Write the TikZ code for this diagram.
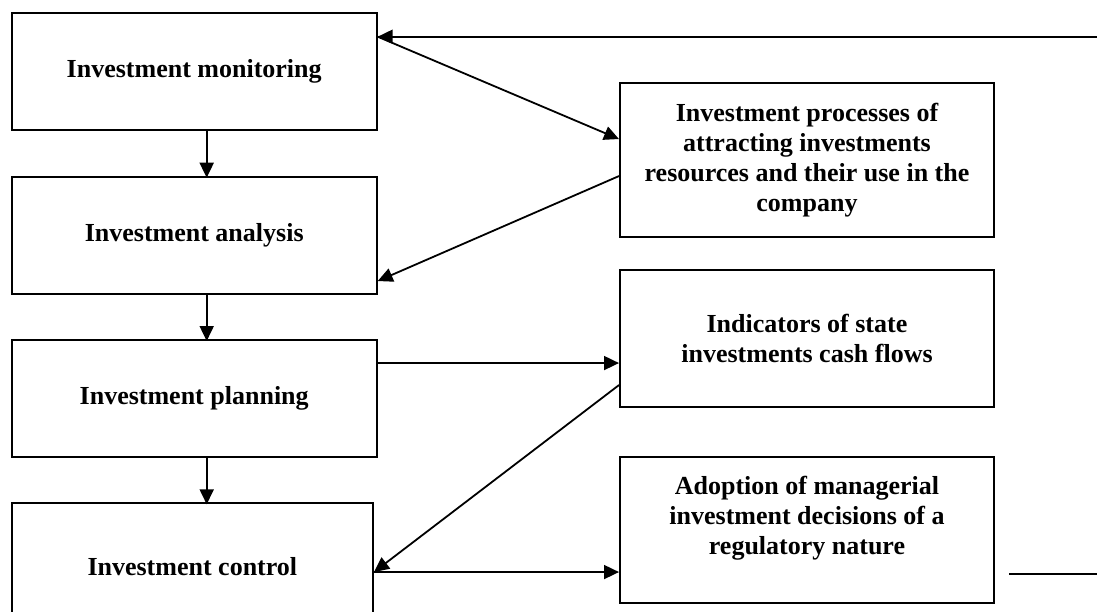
\documentclass[tikz,border=0pt]{standalone}
\usepackage{fontspec}
\setmainfont{Liberation Serif}
\usetikzlibrary{positioning,arrows.meta,calc}

\tikzset{
	block/.style={draw,rectangle,line width=2pt,inner sep=0pt,minimum width=365pt},
	rblock/.style={block,minimum width=374pt}
}

\begin{document}
\begin{tikzpicture}[x=1pt,y=-1pt,->,>={Triangle[length=15pt,width=14pt]},line width=1.8pt,align=center,font=\bfseries\fontsize{26}{30}\selectfont]
	\useasboundingbox (0,0) rectangle (1097,612);
	\clip (0,0) rectangle (1097,612);
	\node[block,minimum height=116.7pt] (mon) at (194.2,71.7) {Investment monitoring};
	\node[block,minimum height=117.3pt,below=44.7pt of mon] (ana) {Investment analysis};
	\node[block,minimum height=116.7pt,below=44pt of ana] (pla) {Investment planning};
	\node[block,minimum width=361.3pt,minimum height=126.7pt,below right=44.6pt and 0pt of pla.south west] (con) {Investment control};
	
	\node[rblock,minimum height=154pt,below right=69.7pt and 241.3pt of mon.north east] (proc) {Investment processes of\\ attracting investments\\ resources and their use in the\\ company};
	\node[rblock,minimum height=137pt,below=31pt of proc] (ind) {Indicators of state\\ investments cash flows};
	\node[rblock,minimum height=146.3pt,below=47.7pt of ind] (adop) {Adoption of managerial\\ investment decisions of a\\ regulatory nature\\ \mbox{}};
	
	\coordinate (fb) at (1097,36.7);
	\draw (fb) -- (fb -| mon.east);
	\draw (fb -| mon.east) -- ([yshift=-57pt]proc.north west);
	\draw ([yshift=-94pt]proc.north west) -- ([yshift=14pt]ana.south east);
	
	\draw ([xshift=12.5pt]mon.south) -- ++(0,46.7);
	\draw ([xshift=12.5pt]ana.south) -- ++(0,46);
	\draw ([xshift=12.5pt]pla.south) -- ++(0,46.6);
	
	\coordinate (p1) at ([yshift=-24pt]pla.north east);
	\draw (p1) -- (p1 -| ind.west);
	\coordinate (c1) at ([yshift=-69.7pt]con.north east);
	\draw ([yshift=-116pt]ind.north west) -- (c1);
	\draw (c1) -- (c1 -| adop.west);
	\coordinate (tail) at ([xshift=14pt,yshift=-44pt]adop.east);
	\draw[-] (tail) -- (tail -| fb);
\end{tikzpicture}
\end{document}
